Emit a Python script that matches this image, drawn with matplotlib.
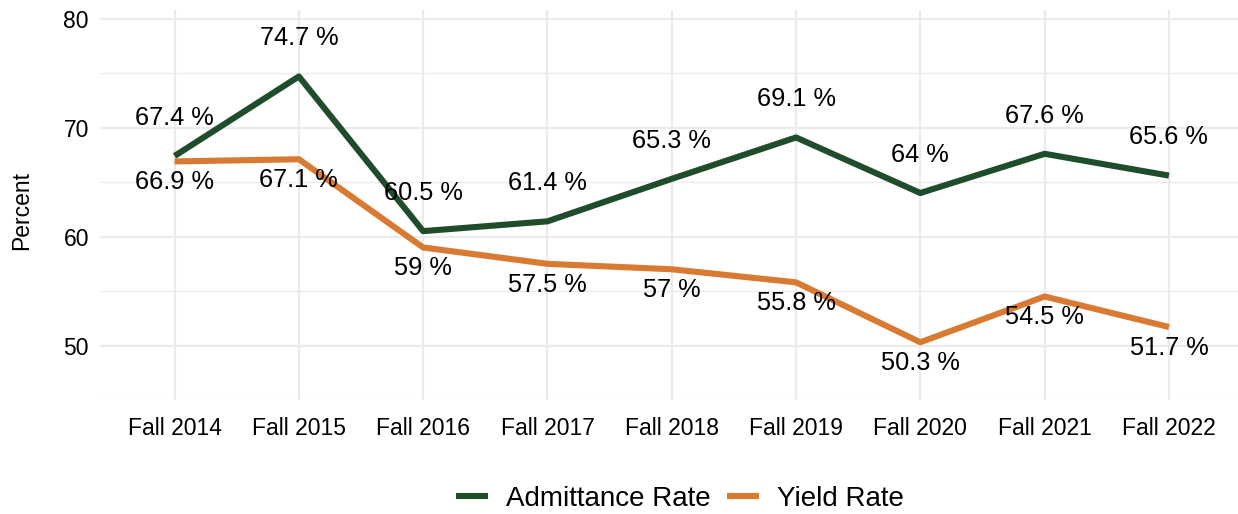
import numpy as np
import matplotlib
matplotlib.use("Agg")
import matplotlib.pyplot as plt

plt.rcParams['font.family'] = ['Liberation Sans', 'DejaVu Sans']

terms = ["Fall 2014", "Fall 2015", "Fall 2016", "Fall 2017", "Fall 2018",
         "Fall 2019", "Fall 2020", "Fall 2021", "Fall 2022"]
admit = [67.4, 74.7, 60.5, 61.4, 65.3, 69.1, 64.0, 67.6, 65.6]
yield_rate = [66.9, 67.1, 59.0, 57.5, 57.0, 55.8, 50.3, 54.5, 51.7]
admit_labels = ["67.4 %", "74.7 %", "60.5 %", "61.4 %", "65.3 %",
                "69.1 %", "64 %", "67.6 %", "65.6 %"]
yield_labels = ["66.9 %", "67.1 %", "59 %", "57.5 %", "57 %",
                "55.8 %", "50.3 %", "54.5 %", "51.7 %"]

green = "#1f4d2b"
orange = "#d97a33"
W, H = 1238, 514

fig = plt.figure(figsize=(W / 100, H / 100), dpi=100)
ax = fig.add_axes([100 / W, (H - 400) / H, 1143.5 / W, 390 / H])

x = np.arange(len(terms))
ax.plot(x, admit, color=green, lw=4.4, solid_capstyle='butt', label="Admittance Rate", zorder=3)
ax.plot(x, yield_rate, color=orange, lw=4.4, solid_capstyle='butt', label="Yield Rate", zorder=3)

for xi, v, s in zip(x, admit, admit_labels):
    ax.text(xi, v + 3.5, s, ha='center', va='center', fontsize=18.3, color='black', zorder=4)
for xi, v, s in zip(x, yield_rate, yield_labels):
    ax.text(xi, v - 1.9, s, ha='center', va='center', fontsize=18.3, color='black', zorder=4)

ax.set_xlim(-0.6, len(terms) - 1 + 0.6)
ax.set_ylim(45, 80.8)
ax.set_xticks(x)
ax.set_xticklabels(terms)
ax.set_yticks([50, 60, 70, 80])
ax.set_yticks([45, 55, 65, 75], minor=True)

ax.grid(which='major', color='#ebebeb', lw=1.6)
ax.grid(which='minor', axis='y', color='#ebebeb', lw=0.9)
ax.set_axisbelow(True)
for sp in ax.spines.values():
    sp.set_visible(False)
ax.tick_params(which='both', length=0)
ax.tick_params(axis='x', labelsize=16.5, pad=12, colors='black')
ax.tick_params(axis='y', labelsize=16.5, pad=8, colors='black')

fig.text(22 / W, 1 - 210 / H, "Percent", rotation=90, ha='center', va='center', fontsize=16.5)

fig.legend(loc='center', bbox_to_anchor=(680 / W, 1 - 499 / H), ncol=2, frameon=False,
           fontsize=20, handlelength=1.15, handletextpad=0.65, columnspacing=0.6)

fig.savefig("out.png", dpi=100)
